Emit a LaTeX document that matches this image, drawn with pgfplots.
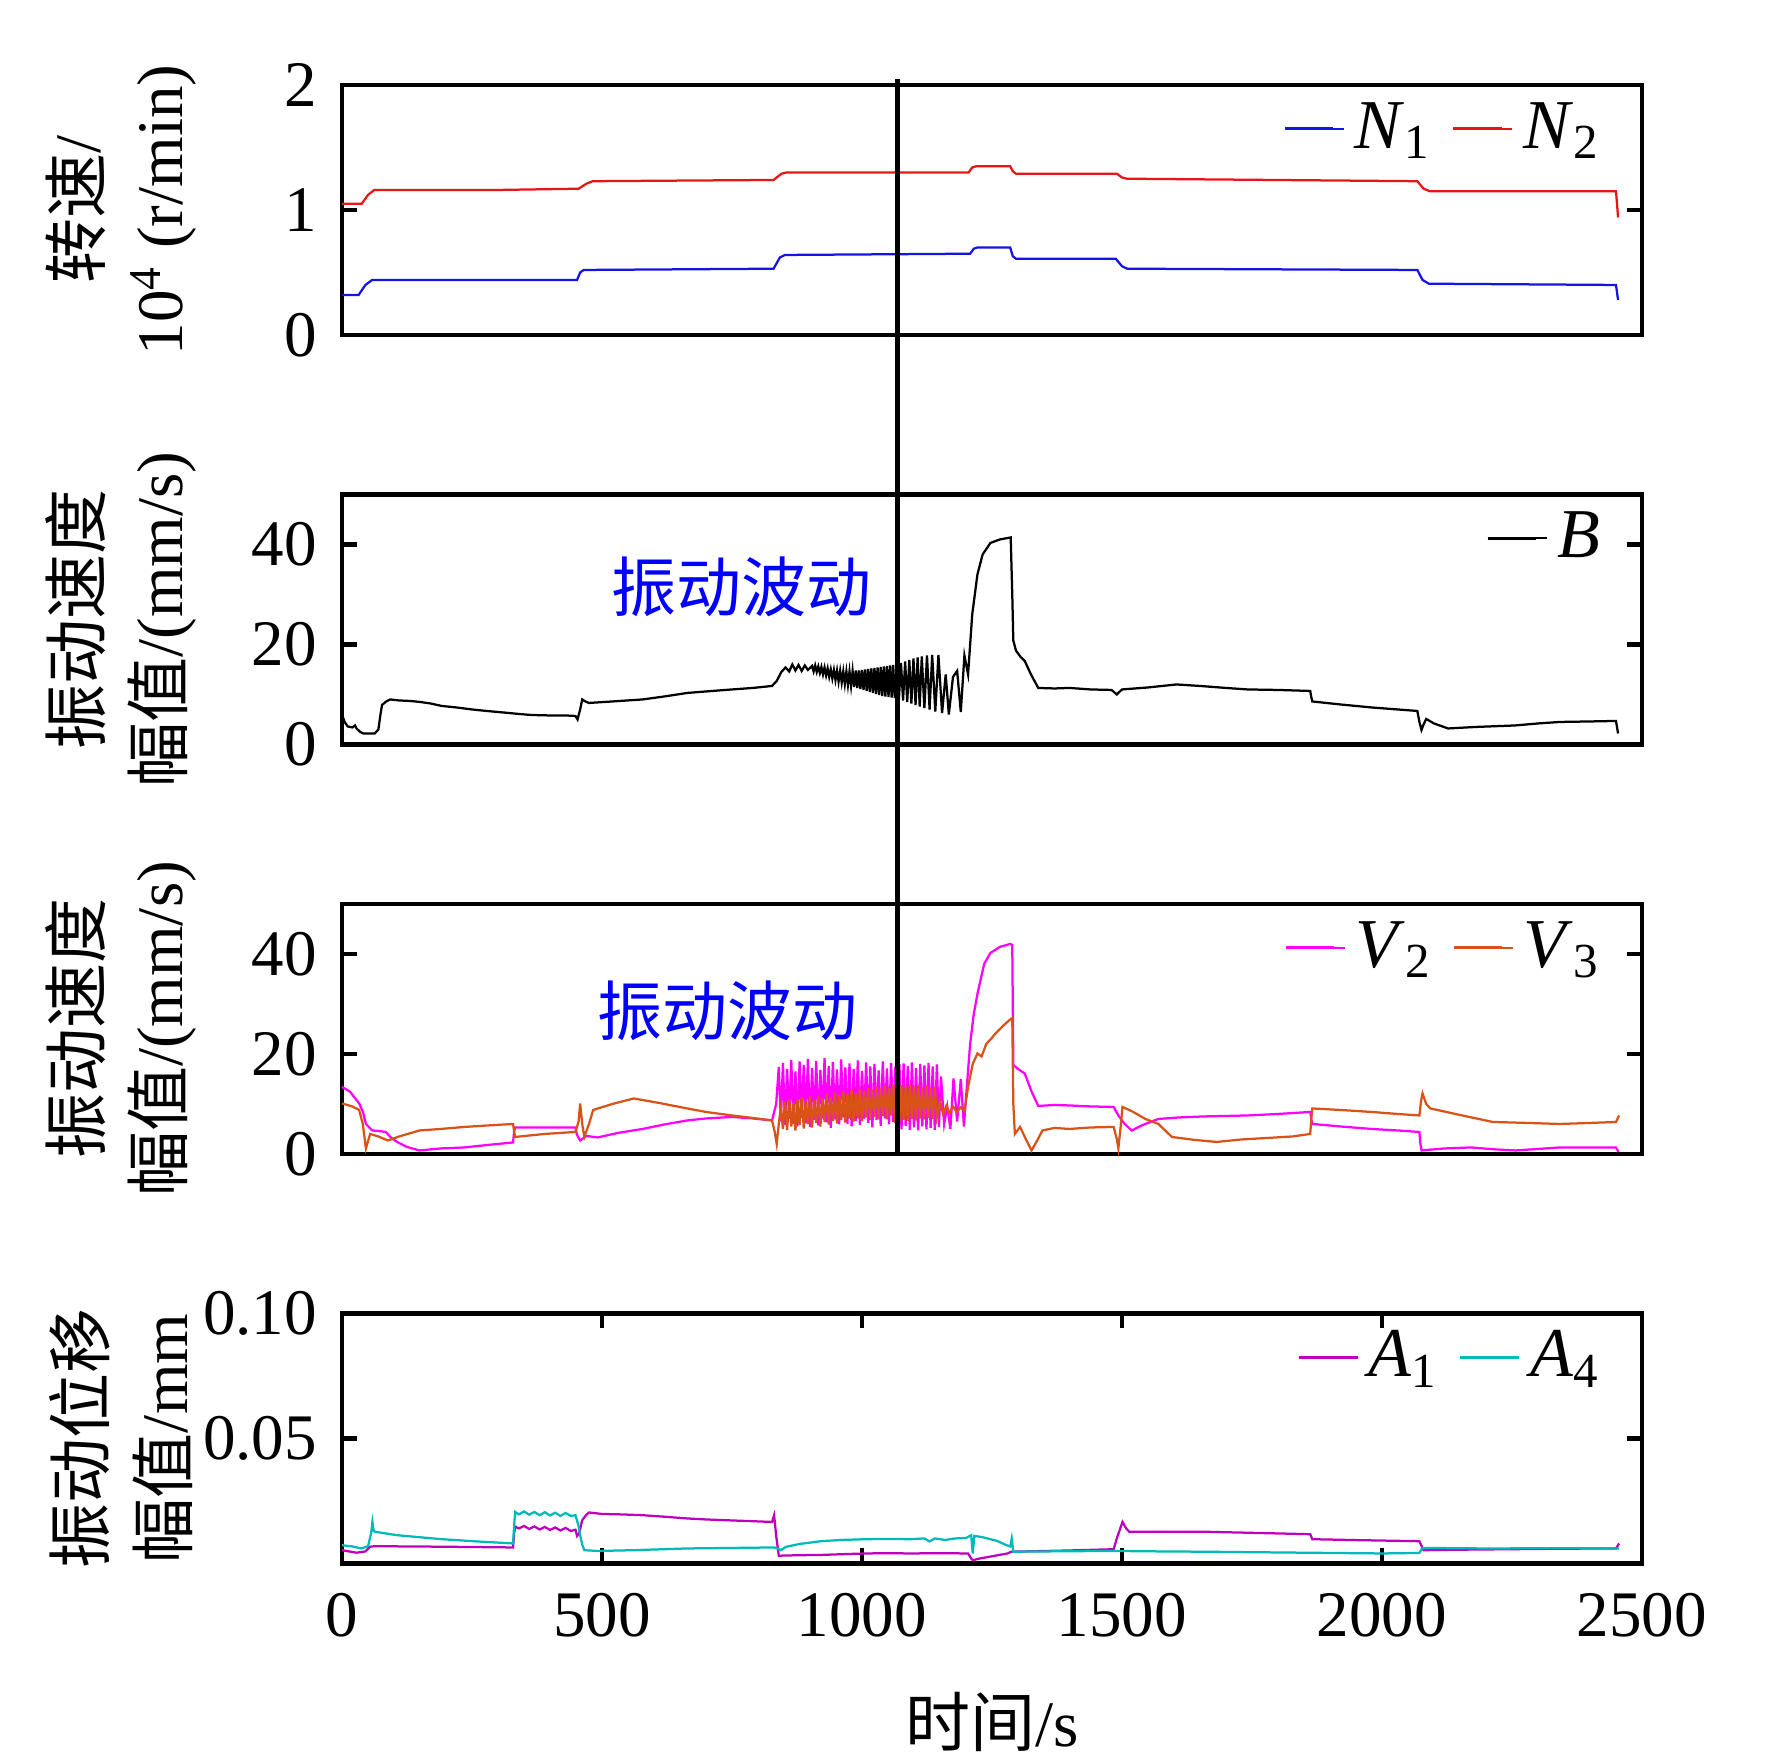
\documentclass[border=0pt]{standalone}
\usepackage{fontspec}
\setmainfont{Liberation Serif}
\newfontfamily\cjk{Noto Sans CJK SC}
\usepackage{pgfplots}
\pgfplotsset{compat=1.18}
\definecolor{cN1}{RGB}{20,20,230}
\definecolor{cN2}{RGB}{235,20,20}
\definecolor{cV2}{RGB}{255,0,255}
\definecolor{cV3}{RGB}{217,83,25}
\definecolor{cA1}{RGB}{190,0,190}
\definecolor{cA4}{RGB}{0,185,185}
\pgfplotsset{
 panel/.style={
  scale only axis, width=260pt, height=50pt, xmin=0, xmax=2500,
  axis line style={line width=0.9pt},
  every tick/.style={line width=0.9pt, black},
  major tick length=3pt,
  tick align=inside,
  xtick=\empty,
  ticklabel style={font=\fontsize{13}{13}\selectfont},
  yticklabel style={xshift=-1.5pt},
  /pgf/number format/assume math mode=true,
  /pgf/number format/set thousands separator={},
  legend style={draw=none, fill=none, at={(axis description cs:0.988,1.015)}, anchor=north east,
    legend columns=-1, font=\fontsize{14}{14}\selectfont,
    /tikz/every even column/.append style={column sep=2pt}},
  legend image code/.code={\path (0pt,0pt) -- (11.8pt,0pt);\draw[##1, line width=0.6pt] (0pt,0pt) -- (9.7pt,0pt);},
  ylabel style={align=center, font=\fontsize{13}{16.5}\selectfont, at={(axis description cs:-0.17,0.5)}, anchor=center},
  every axis plot/.append style={line width=0.45pt},
 }
}
\begin{document}
\begin{tikzpicture}
\path[use as bounding box] (0,0) rectangle (354.4pt,352pt);
% Panel 1
\begin{axis}[panel, at={(68.4pt,285pt)}, anchor=south west,
  ymin=0, ymax=2, ytick={0,1,2},
  ylabel={{\cjk 转速}/\\10\textsuperscript{4} (r/min)}]
\addplot[cN1] coordinates {(0,0.32) (32,0.32) (45,0.40) (58,0.44) (452,0.44) (458,0.50) (465,0.52) (830,0.53) (842,0.62) (852,0.64) (1208,0.65) (1215,0.69) (1222,0.70) (1285,0.70) (1290,0.63) (1296,0.61) (1488,0.61) (1500,0.55) (1510,0.53) (2068,0.52) (2078,0.44) (2090,0.41) (2450,0.40) (2452,0.34) (2454,0.28)};
\addlegendentry{\textit{N}\textsubscript{1}}
\addplot[cN2] coordinates {(0,1.05) (38,1.05) (50,1.12) (62,1.16) (300,1.16) (455,1.17) (470,1.21) (482,1.23) (830,1.24) (845,1.29) (855,1.30) (1205,1.30) (1212,1.34) (1220,1.35) (1285,1.35) (1290,1.31) (1296,1.29) (1490,1.29) (1500,1.26) (1510,1.25) (2068,1.23) (2080,1.17) (2092,1.15) (2450,1.15) (2452,1.05) (2454,0.94)};
\addlegendentry{\textit{N}\textsubscript{2}}
\end{axis}
% Panel 2
\begin{axis}[panel, at={(68.4pt,203.1pt)}, anchor=south west,
  ymin=0, ymax=50, ytick={0,20,40},
  ylabel={{\cjk 振动速度}\\{\cjk 幅值}/(mm/s)}]
\addplot[black] coordinates {(0,6.0) (5,4.5) (11,3.6) (20,3.4) (25,3.8) (28,3.2) (35,2.5) (41,2.2) (63,2.2) (70,3.0) (74,6.0) (77,7.9) (85,8.6) (93,9.0) (110,8.8) (131,8.7) (150,8.5) (170,8.2) (192,7.7) (220,7.4) (250,7.0) (278,6.7) (310,6.4) (340,6.1) (363,5.9) (400,5.8) (430,5.8) (449,5.7) (453,5.0) (458,7.0) (462,9.0) (468,8.6) (475,8.3) (520,8.6) (578,9.0) (620,9.6) (664,10.3) (700,10.6) (750,11.0) (790,11.3) (827,11.7) (836,12.7) (845,14.5) (853,15.4) (860,14.6) (866,16.0) (872,14.8) (878,15.9) (884,14.7) (890,15.8) (896,14.9)
(904,15.7) (907,14.6) (910,15.8) (913,14.5) (916,15.6) (919,14.3) (922,15.5) (925,14.0) (928,15.4) (931,13.8) (934,15.2) (937,13.5) (940,15.0) (943,13.2) (946,14.9) (949,12.9) (952,14.8) (955,12.6) (958,14.7) (961,12.4) (964,14.6) (967,12.1) (970,14.6) (973,11.9) (976,14.6) (979,11.7) (982,14.7) (985,11.5) (988,14.8) (991,11.3) (994,14.8) (997,11.1) (1000,14.9) (1003,10.9) (1006,15.0) (1009,10.7) (1012,15.1) (1015,10.5) (1018,15.2) (1021,10.3) (1024,15.3) (1027,10.1) (1030,15.4) (1033,9.9) (1036,15.5) (1039,9.7) (1042,15.6) (1045,9.6) (1048,15.7) (1051,9.5) (1054,15.8) (1057,9.4) (1060,15.9) (1063,9.3)
(1067,15.9) (1071,9.1) (1075,16.3) (1079,8.8) (1083,16.6) (1087,8.5) (1091,16.9) (1095,8.2) (1099,17.2) (1103,7.9) (1107,17.4) (1111,7.6) (1115,17.6) (1120,7.3) (1125,17.8) (1130,7.0) (1135,17.9) (1141,6.6) (1147,17.9) (1154,6.3) (1161,14.0) (1167,6.0) (1175,13.5) (1183,14.7) (1190,6.5) (1197,17.8) (1204,14.0) (1212,26) (1222,34) (1232,38) (1247,40.3) (1265,41.0) (1286,41.4) (1289,30) (1291,20.8) (1296,18.8) (1305,17.5) (1313,16.7) (1325,14.0) (1339,11.3) (1370,11.2) (1399,11.3) (1440,11.0) (1480,10.9) (1490,10.0) (1493,10.3) (1500,11.0) (1550,11.4) (1605,12.0) (1650,11.7) (1700,11.3) (1742,11.0) (1800,10.9) (1862,10.7) (1864,9.5) (1866,8.6) (1920,8.0) (1980,7.4) (2030,7.0) (2068,6.7) (2072,4.5) (2076,2.9) (2080,4.0) (2085,5.1) (2100,4.2) (2127,3.2) (2180,3.5) (2256,3.8) (2300,4.2) (2342,4.5) (2400,4.6) (2450,4.7) (2454,2.2)};
\addlegendentry{\textit{B}}
\node[text=blue, font=\cjk\fontsize{13}{13}\selectfont] at (axis cs:769,31.5) {振动波动};
\end{axis}
% Panel 3
\begin{axis}[panel, at={(68.4pt,121.2pt)}, anchor=south west, clip=false,
  ymin=0, ymax=50, ytick={0,20,40},
  ylabel={{\cjk 振动速度}\\{\cjk 幅值}/(mm/s)}]
\addplot[cV2] coordinates {(0,13.4) (15,12.5) (33,10.1) (40,8.5) (46,6.0) (58,4.7) (70,4.6) (84,4.4) (95,3.2) (106,2.4) (125,1.4) (149,0.7) (190,1.1) (235,1.3) (280,1.8) (329,2.3) (331,4.5) (333,5.3) (400,5.3) (449,5.3) (452,3.8) (458,2.7) (470,3.6) (492,3.3) (530,4.2) (578,5.0) (620,5.9) (664,6.7) (700,7.1) (750,7.4) (790,7.1) (827,6.7) (835,10)
(840,17.4) (844,6.5) (848,18.2) (852,5.8) (856,17.0) (860,7.0) (864,18.8) (868,6.0) (872,16.5) (876,5.5) (880,18.5) (884,7.2) (888,17.8) (892,6.1) (896,19.0) (900,5.4) (904,17.2) (908,6.8) (912,18.6) (916,5.7) (920,16.8) (924,7.1) (928,19.2) (932,6.3) (936,17.6) (940,5.2) (944,18.4) (948,6.9) (952,16.9) (956,5.9) (960,18.9) (964,7.3) (968,17.3) (972,6.0) (976,18.1) (980,5.5) (984,17.0) (988,6.6) (992,18.7) (996,5.8) (1000,16.6) (1004,7.0) (1008,18.3) (1012,6.2) (1016,17.5) (1020,5.3) (1024,18.0) (1028,6.8) (1032,16.7) (1036,5.6) (1040,18.5) (1044,7.1) (1048,17.1) (1052,5.9) (1056,18.2) (1060,6.4) (1064,17.4) (1068,5.1) (1072,17.9) (1076,4.9) (1080,18.1) (1084,5.6) (1088,17.6) (1092,4.8) (1096,18.3) (1100,5.3) (1104,17.2) (1108,4.7) (1112,18.0) (1116,5.5) (1120,17.7) (1124,4.9) (1128,18.2) (1132,5.2) (1136,17.5) (1140,4.8) (1144,17.9) (1148,5.4) (1152,15.5) (1158,6.0) (1164,9.5) (1170,5.0) (1176,15.1) (1183,6.5) (1190,15.0) (1196,5.5) (1202,14.0) (1208,22) (1215,28) (1222,32) (1235,38) (1247,40.2) (1265,41.4) (1285,42.0) (1289,41.8) (1291,17.8) (1300,17.0) (1313,16.1) (1326,12.5) (1339,9.6) (1370,9.8) (1399,9.7) (1440,9.5) (1484,9.4) (1493,7.7) (1505,6.0) (1519,4.7) (1540,5.8) (1570,7.0) (1610,7.3) (1656,7.5) (1700,7.6) (1742,7.7) (1800,8.0) (1862,8.4) (1864,7.0) (1866,6.0) (1920,5.5) (1980,5.0) (2030,4.7) (2072,4.4) (2074,2.0) (2076,0.7) (2120,1.1) (2171,1.3) (2220,0.9) (2257,0.7) (2300,1.0) (2342,1.3) (2400,1.3) (2450,1.3) (2455,0.4)};
\addlegendentry{\textit{V}\textsubscript{2}}
\addplot[cV3] coordinates {(0,10.1) (20,9.5) (33,8.8) (40,6.0) (46,1.1) (50,2.5) (54,4.0) (70,3.5) (88,2.7) (110,3.5) (149,4.7) (190,5.0) (235,5.4) (280,5.7) (329,6.0) (331,4.5) (333,3.4) (390,4.0) (449,4.4) (455,6.5) (458,10.1) (462,6.0) (466,3.4) (475,6.0) (483,8.8) (520,10.0) (561,11.1) (610,10.2) (664,9.1) (700,8.4) (750,7.7) (790,7.2) (827,6.7) (832,4.5) (836,2.0) (840,6.0)
(844,9.4) (848,5.0) (852,10.5) (856,4.8) (860,11.0) (864,5.5) (868,10.2) (872,4.7) (876,10.9) (880,5.8) (884,11.3) (888,5.1) (892,10.6) (896,6.0) (900,11.5) (904,5.3) (908,10.8) (912,6.2) (916,11.6) (920,5.5) (924,11.2) (928,6.4) (932,12.0) (936,5.9) (940,11.4) (944,6.6) (948,12.3) (952,6.1) (956,11.8) (960,6.8) (964,12.5) (968,6.3) (972,12.0) (976,7.0) (980,12.8) (984,6.5) (988,12.2) (992,7.1) (996,13.0) (1000,6.6) (1004,12.6) (1008,7.3) (1012,13.2) (1016,6.8) (1020,12.9) (1024,7.4) (1028,13.5) (1032,6.9) (1036,13.1) (1040,7.6) (1044,13.7) (1048,7.0) (1052,13.3) (1056,7.7) (1060,13.9) (1064,6.2) (1068,13.6) (1072,6.5) (1076,13.8) (1080,6.8) (1084,13.4) (1088,6.6) (1092,13.9) (1096,7.0) (1100,13.5) (1104,6.7) (1108,13.8) (1112,7.1) (1116,13.3) (1120,6.9) (1124,13.7) (1128,7.2) (1132,13.2) (1136,7.0) (1140,13.5) (1144,7.4) (1150,10.5) (1156,8.0) (1162,9.6) (1168,8.2) (1175,9.5) (1182,8.4) (1190,9.3) (1197,8.6) (1204,13.4) (1213,18.0) (1222,20.1) (1230,19.5) (1239,22) (1248,23) (1256,24) (1270,25.5) (1285,26.9) (1289,27.2) (1291,10) (1294,4.0) (1304,5.4) (1315,3.0) (1326,0.7) (1336,2.5) (1347,4.7) (1370,5.2) (1399,5.0) (1440,5.3) (1484,5.4) (1490,3.0) (1493,1.1) (1497,5.0) (1501,9.4) (1520,8.5) (1545,7.0) (1570,6.0) (1596,3.4) (1640,2.8) (1682,2.4) (1730,2.9) (1780,3.2) (1828,3.5) (1862,4.0) (1864,7.0) (1866,9.1) (1920,8.8) (1980,8.4) (2030,8.0) (2072,7.7) (2075,10.5) (2078,12.1) (2085,10.0) (2093,9.1) (2150,7.8) (2213,6.4) (2280,6.2) (2342,6.0) (2400,6.2) (2450,6.4) (2456,7.7)};
\addlegendentry{\textit{V}\textsubscript{3}}
\node[text=blue, font=\cjk\fontsize{13}{13}\selectfont] at (axis cs:741,28.7) {振动波动};
\draw[black, line width=0.9pt] (axis cs:1068,0) -- ++(0pt,214.9pt);
\end{axis}
% Panel 4
\begin{axis}[panel, at={(68.4pt,39.3pt)}, anchor=south west,
  ymin=0, ymax=0.1, ytick={0.05,0.1}, scaled y ticks=false,
  yticklabel style={/pgf/number format/.cd, fixed, fixed zerofill, precision=2},
  xtick={0,500,1000,1500,2000,2500},
  xticklabel style={yshift=-2.5pt},
  xlabel={{\cjk 时间}/s},
  xlabel style={at={(axis description cs:0.5,-0.634)}, anchor=center, font=\fontsize{13}{13}\selectfont},
  ylabel={{\cjk 振动位移}\\{\cjk 幅值}/mm}]
\addplot[cA1] coordinates {(0,0.0053) (28,0.0043) (45,0.0048) (54,0.0067) (63,0.0069) (192,0.0067) (329,0.0064) (331,0.0120) (333,0.0147) (340,0.0140) (350,0.0150) (360,0.0138) (370,0.0148) (380,0.0136) (390,0.0146) (400,0.0134) (410,0.0144) (420,0.0132) (430,0.0142) (440,0.0130) (449,0.0135) (452,0.0110) (456,0.0120) (462,0.0173) (470,0.0195) (475,0.0204) (500,0.0198) (540,0.0196) (578,0.0193) (620,0.0187) (664,0.0180) (700,0.0176) (750,0.0172) (790,0.0169) (827,0.0166) (831,0.0193) (835,0.0110) (840,0.0031) (880,0.0033) (921,0.0034) (960,0.0037) (1007,0.0040) (1050,0.0041) (1093,0.0040) (1150,0.0041) (1204,0.0040) (1210,0.0020) (1213,0.0013) (1227,0.0020) (1264,0.0034) (1280,0.0040) (1287,0.0047) (1400,0.0052) (1484,0.0057) (1490,0.0100) (1501,0.0166) (1508,0.0140) (1514,0.0127) (1580,0.0127) (1656,0.0127) (1760,0.0122) (1862,0.0117) (1866,0.0097) (1960,0.0093) (2072,0.0089) (2076,0.0070) (2080,0.0053) (2150,0.0055) (2250,0.0057) (2350,0.0059) (2450,0.0060) (2456,0.0080)};
\addlegendentry{\textit{A}\textsubscript{1}}
\addplot[cA4] coordinates {(0,0.0073) (20,0.0068) (37,0.0060) (50,0.0069) (56,0.0120) (58.5,0.0166) (61,0.0130) (63,0.0127) (106,0.0113) (192,0.0097) (260,0.0088) (329,0.0080) (331,0.0150) (333,0.0206) (340,0.0196) (350,0.0208) (360,0.0195) (370,0.0206) (380,0.0193) (390,0.0205) (400,0.0192) (410,0.0203) (420,0.0190) (430,0.0202) (440,0.0190) (449,0.0193) (455,0.0150) (458,0.0113) (462,0.0075) (466,0.0053) (492,0.0050) (560,0.0053) (664,0.0060) (750,0.0062) (831,0.0064) (840,0.0058) (844,0.0053) (853,0.0066) (880,0.0078) (921,0.0089) (960,0.0094) (1007,0.0097) (1050,0.0098) (1093,0.0097) (1120,0.0100) (1130,0.0088) (1140,0.0100) (1160,0.0094) (1179,0.0100) (1200,0.0102) (1210,0.0113) (1213,0.0040) (1216,0.0110) (1230,0.0106) (1260,0.0090) (1278,0.0073) (1285,0.0068) (1288,0.0100) (1291,0.0047) (1400,0.0049) (1484,0.0050) (1580,0.0048) (1656,0.0047) (1800,0.0044) (2000,0.0040) (2072,0.0042) (2077,0.0060) (2085,0.0062) (2200,0.0060) (2350,0.0061) (2456,0.0060)};
\addlegendentry{\textit{A}\textsubscript{4}}
\end{axis}
\end{tikzpicture}
\end{document}
